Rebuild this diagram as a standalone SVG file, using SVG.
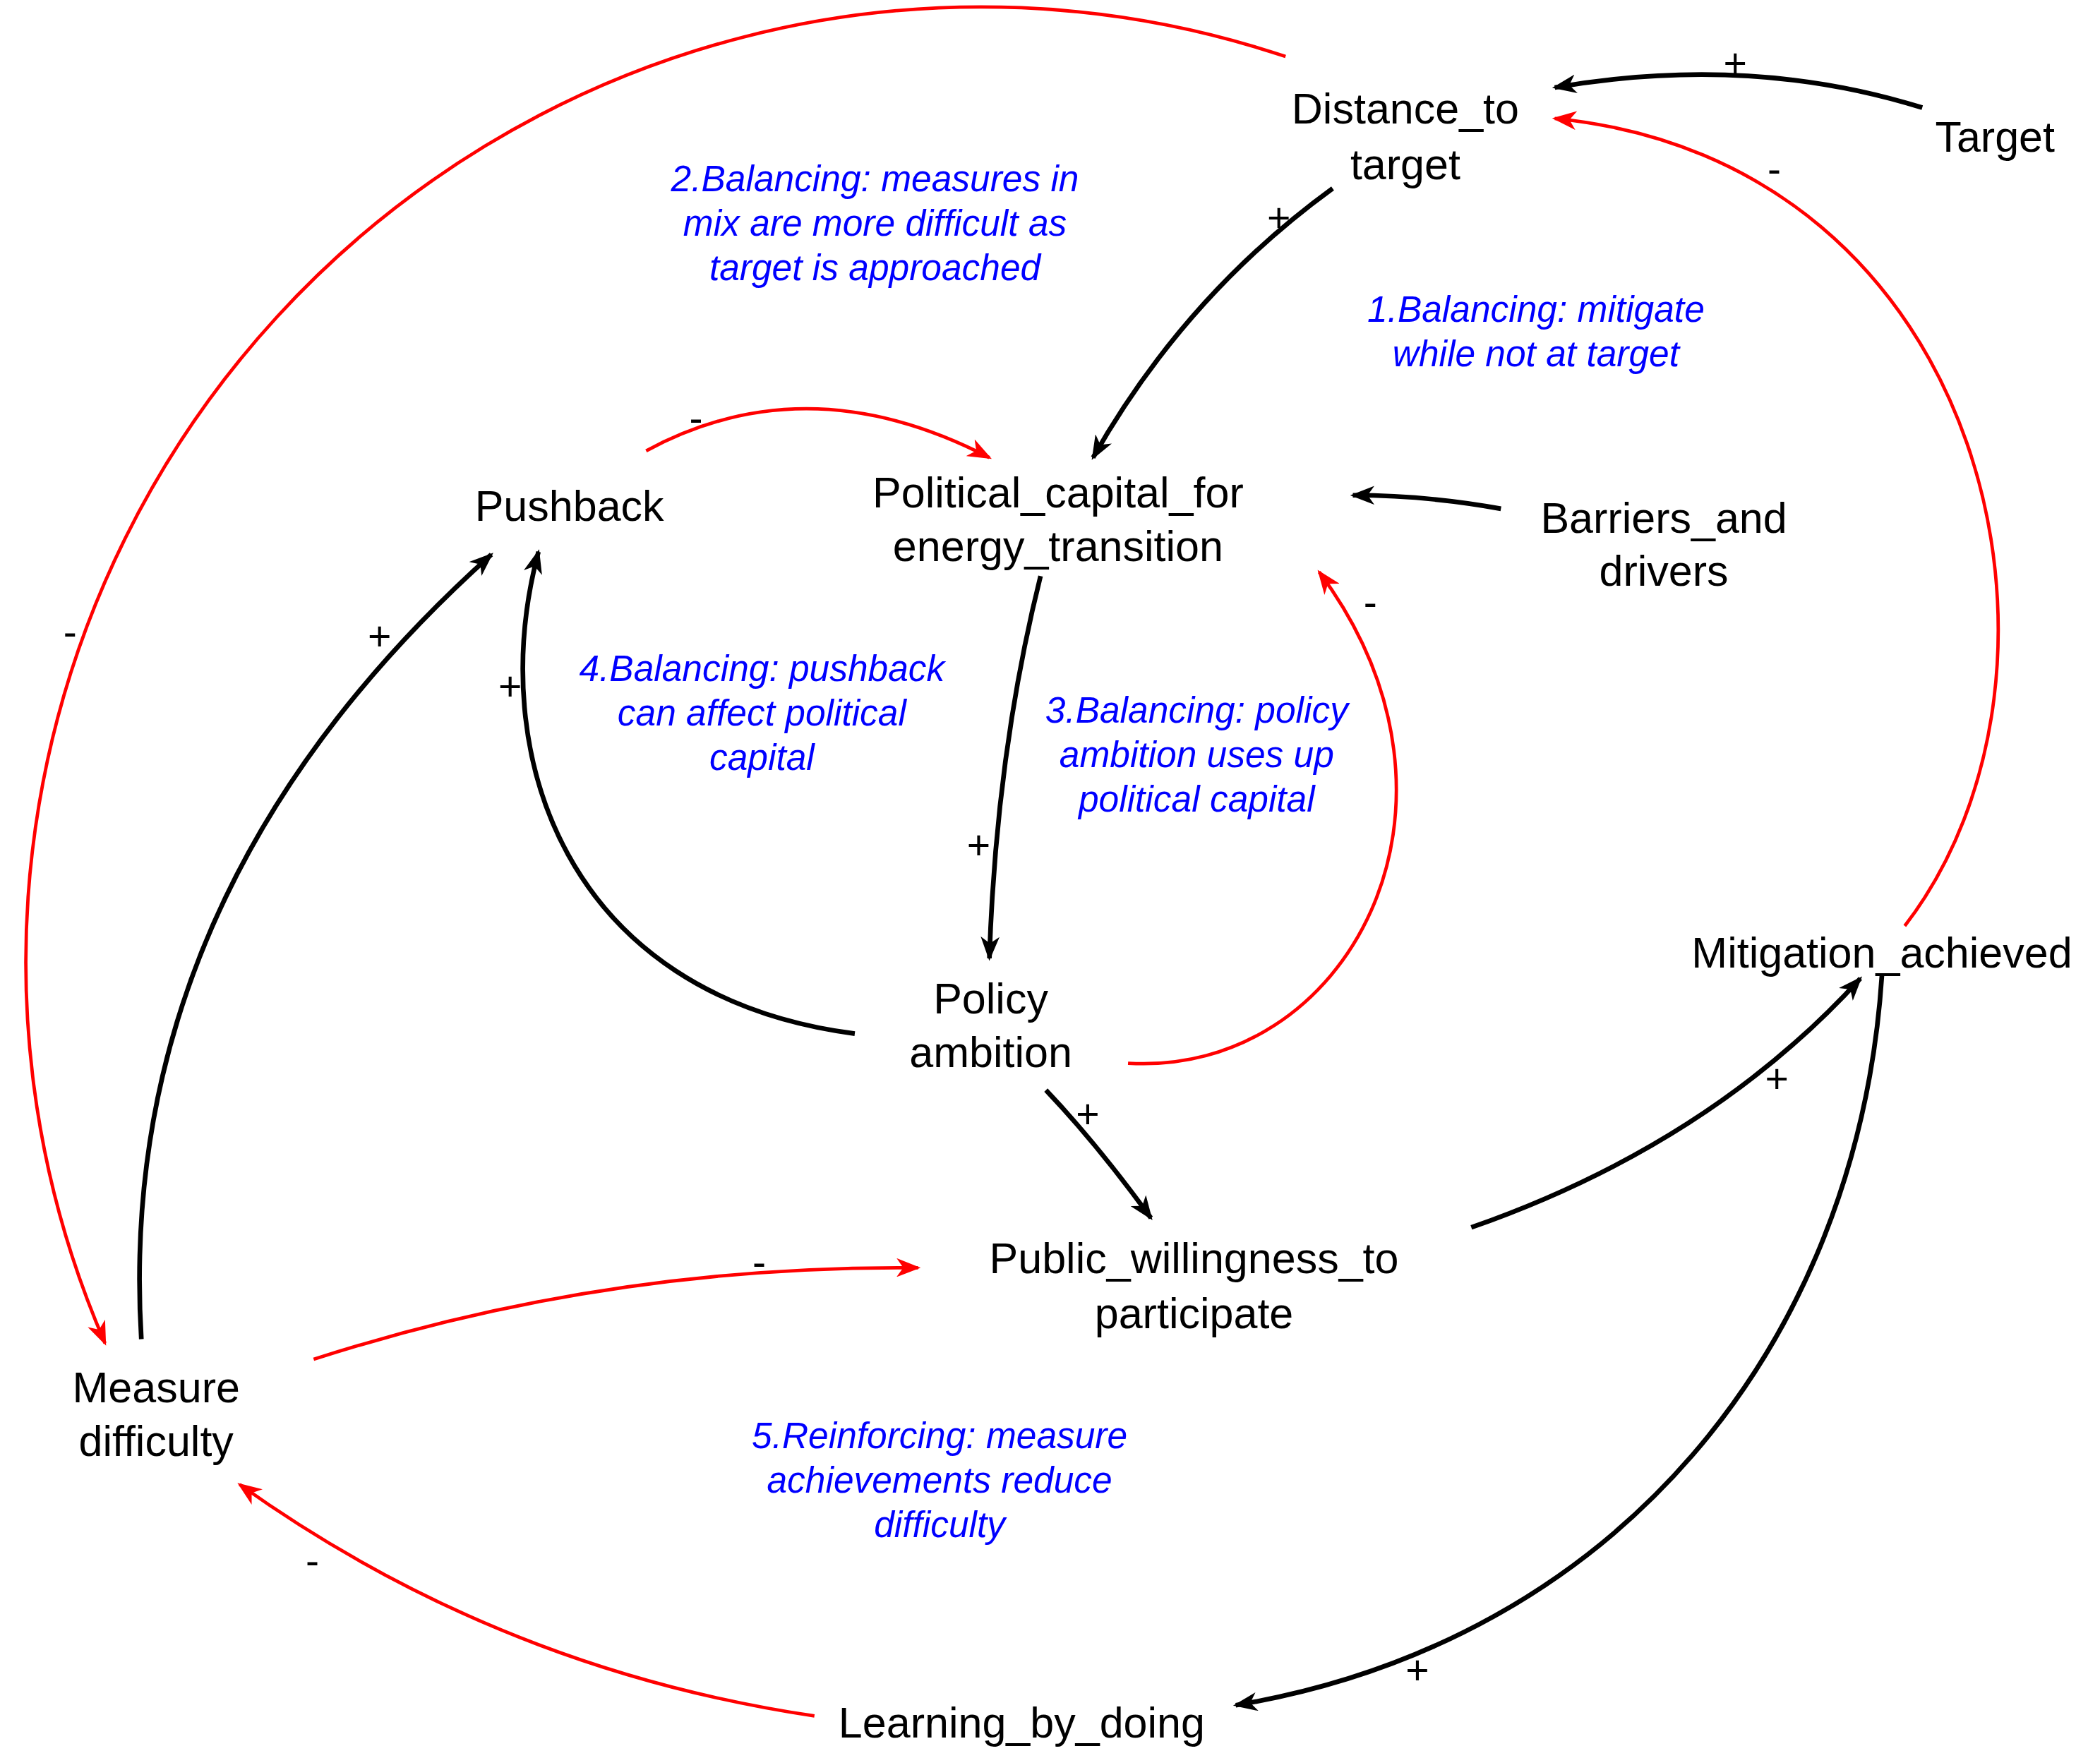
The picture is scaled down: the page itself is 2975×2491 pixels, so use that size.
<svg xmlns="http://www.w3.org/2000/svg" width="2975" height="2491" viewBox="0 0 2975 2491">
<style>
.n{font-family:"Liberation Sans",Arial,sans-serif;font-size:32px;fill:#000;text-anchor:middle}
.l{font-family:"Liberation Sans",Arial,sans-serif;font-size:27px;font-style:italic;fill:#0000ff;text-anchor:middle}
.s{font-family:"Liberation Sans",Arial,sans-serif;font-size:30px;fill:#000;text-anchor:middle}
.k{fill:none;stroke:#000;stroke-width:3.5}
.r{fill:none;stroke:#ff0000;stroke-width:2.5}
</style>
<defs>
<marker id="ak" markerUnits="userSpaceOnUse" markerWidth="18" markerHeight="14" refX="16" refY="7" orient="auto"><path d="M0,0 L18,7 L0,14 L5,7 z" fill="#000"/></marker>
<marker id="ar" markerUnits="userSpaceOnUse" markerWidth="18" markerHeight="14" refX="16" refY="7" orient="auto"><path d="M0,0 L18,7 L0,14 L5,7 z" fill="#ff0000"/></marker>
</defs>
<rect width="2975" height="2491" fill="#fff"/>
<g transform="scale(1.907)">
<g id="connectors">
<path class="r" d="M955,42 A710 710 0 0 0 78,998" marker-end="url(#ar)"/>
<path class="k" d="M1428,80 Q1300,40 1155,65" marker-end="url(#ak)"/>
<path class="r" d="M1415,688 C1560,500 1480,120 1155,88" marker-end="url(#ar)"/>
<path class="k" d="M990,140 Q880,220 812,340" marker-end="url(#ak)"/>
<path class="r" d="M480,335 Q600,270 735,340" marker-end="url(#ar)"/>
<path class="k" d="M1115,378 Q1060,368 1005,368" marker-end="url(#ak)"/>
<path class="k" d="M773,428 Q740,560 735,712" marker-end="url(#ak)"/>
<path class="k" d="M635,768 C420,740 360,560 400,410" marker-end="url(#ak)"/>
<path class="r" d="M838,790 C1000,800 1110,600 980,425" marker-end="url(#ar)"/>
<path class="k" d="M105,995 C90,750 200,560 365,412" marker-end="url(#ak)"/>
<path class="k" d="M777,810 Q815,850 855,905" marker-end="url(#ak)"/>
<path class="k" d="M1093,912 Q1270,850 1382,727" marker-end="url(#ak)"/>
<path class="k" d="M1398,725 C1380,1000 1200,1220 918,1267" marker-end="url(#ak)"/>
<path class="r" d="M605,1275 Q370,1240 178,1103" marker-end="url(#ar)"/>
<path class="r" d="M233,1010 Q450,940 682,942" marker-end="url(#ar)"/>
</g>
<g id="signs">
<text class="s" x="1289" y="57">+</text><text class="s" x="1318" y="136">-</text>
<text class="s" x="950" y="172">+</text><text class="s" x="517" y="321">-</text>
<text class="s" x="52" y="480">-</text><text class="s" x="282" y="483">+</text>
<text class="s" x="379" y="520">+</text><text class="s" x="1018" y="458">-</text>
<text class="s" x="727" y="638">+</text><text class="s" x="808" y="838">+</text>
<text class="s" x="1320" y="812">+</text><text class="s" x="564" y="948">-</text>
<text class="s" x="232" y="1170">-</text><text class="s" x="1053" y="1251">+</text>
</g>
<g id="distance"><text class="n" x="1044" y="92">Distance_to</text><text class="n" x="1044" y="133">target</text></g>
<g id="target"><text class="n" x="1482" y="113">Target</text></g>
<g id="pushback"><text class="n" x="423" y="387">Pushback</text></g>
<g id="political"><text class="n" x="786" y="377">Political_capital_for</text><text class="n" x="786" y="417">energy_transition</text></g>
<g id="barriers"><text class="n" x="1236" y="396">Barriers_and</text><text class="n" x="1236" y="435">drivers</text></g>
<g id="policy"><text class="n" x="736" y="753">Policy</text><text class="n" x="736" y="793">ambition</text></g>
<g id="mitigation"><text class="n" x="1398" y="719">Mitigation_achieved</text></g>
<g id="public"><text class="n" x="887" y="946">Public_willingness_to</text><text class="n" x="887" y="987">participate</text></g>
<g id="measure"><text class="n" x="116" y="1042">Measure</text><text class="n" x="116" y="1082">difficulty</text></g>
<g id="learning"><text class="n" x="759" y="1291">Learning_by_doing</text></g>
<g id="loops">
<text class="l" x="650" y="142">2.Balancing: measures in</text><text class="l" x="650" y="175">mix are more difficult as</text><text class="l" x="650" y="208">target is approached</text>
<text class="l" x="1141" y="239">1.Balancing: mitigate</text><text class="l" x="1141" y="272">while not at target</text>
<text class="l" x="566" y="506">4.Balancing: pushback</text><text class="l" x="566" y="539">can affect political</text><text class="l" x="566" y="572">capital</text>
<text class="l" x="889" y="537">3.Balancing: policy</text><text class="l" x="889" y="570">ambition uses up</text><text class="l" x="889" y="603">political capital</text>
<text class="l" x="698" y="1076">5.Reinforcing: measure</text><text class="l" x="698" y="1109">achievements reduce</text><text class="l" x="698" y="1142">difficulty</text>
</g>
</g>
</svg>
